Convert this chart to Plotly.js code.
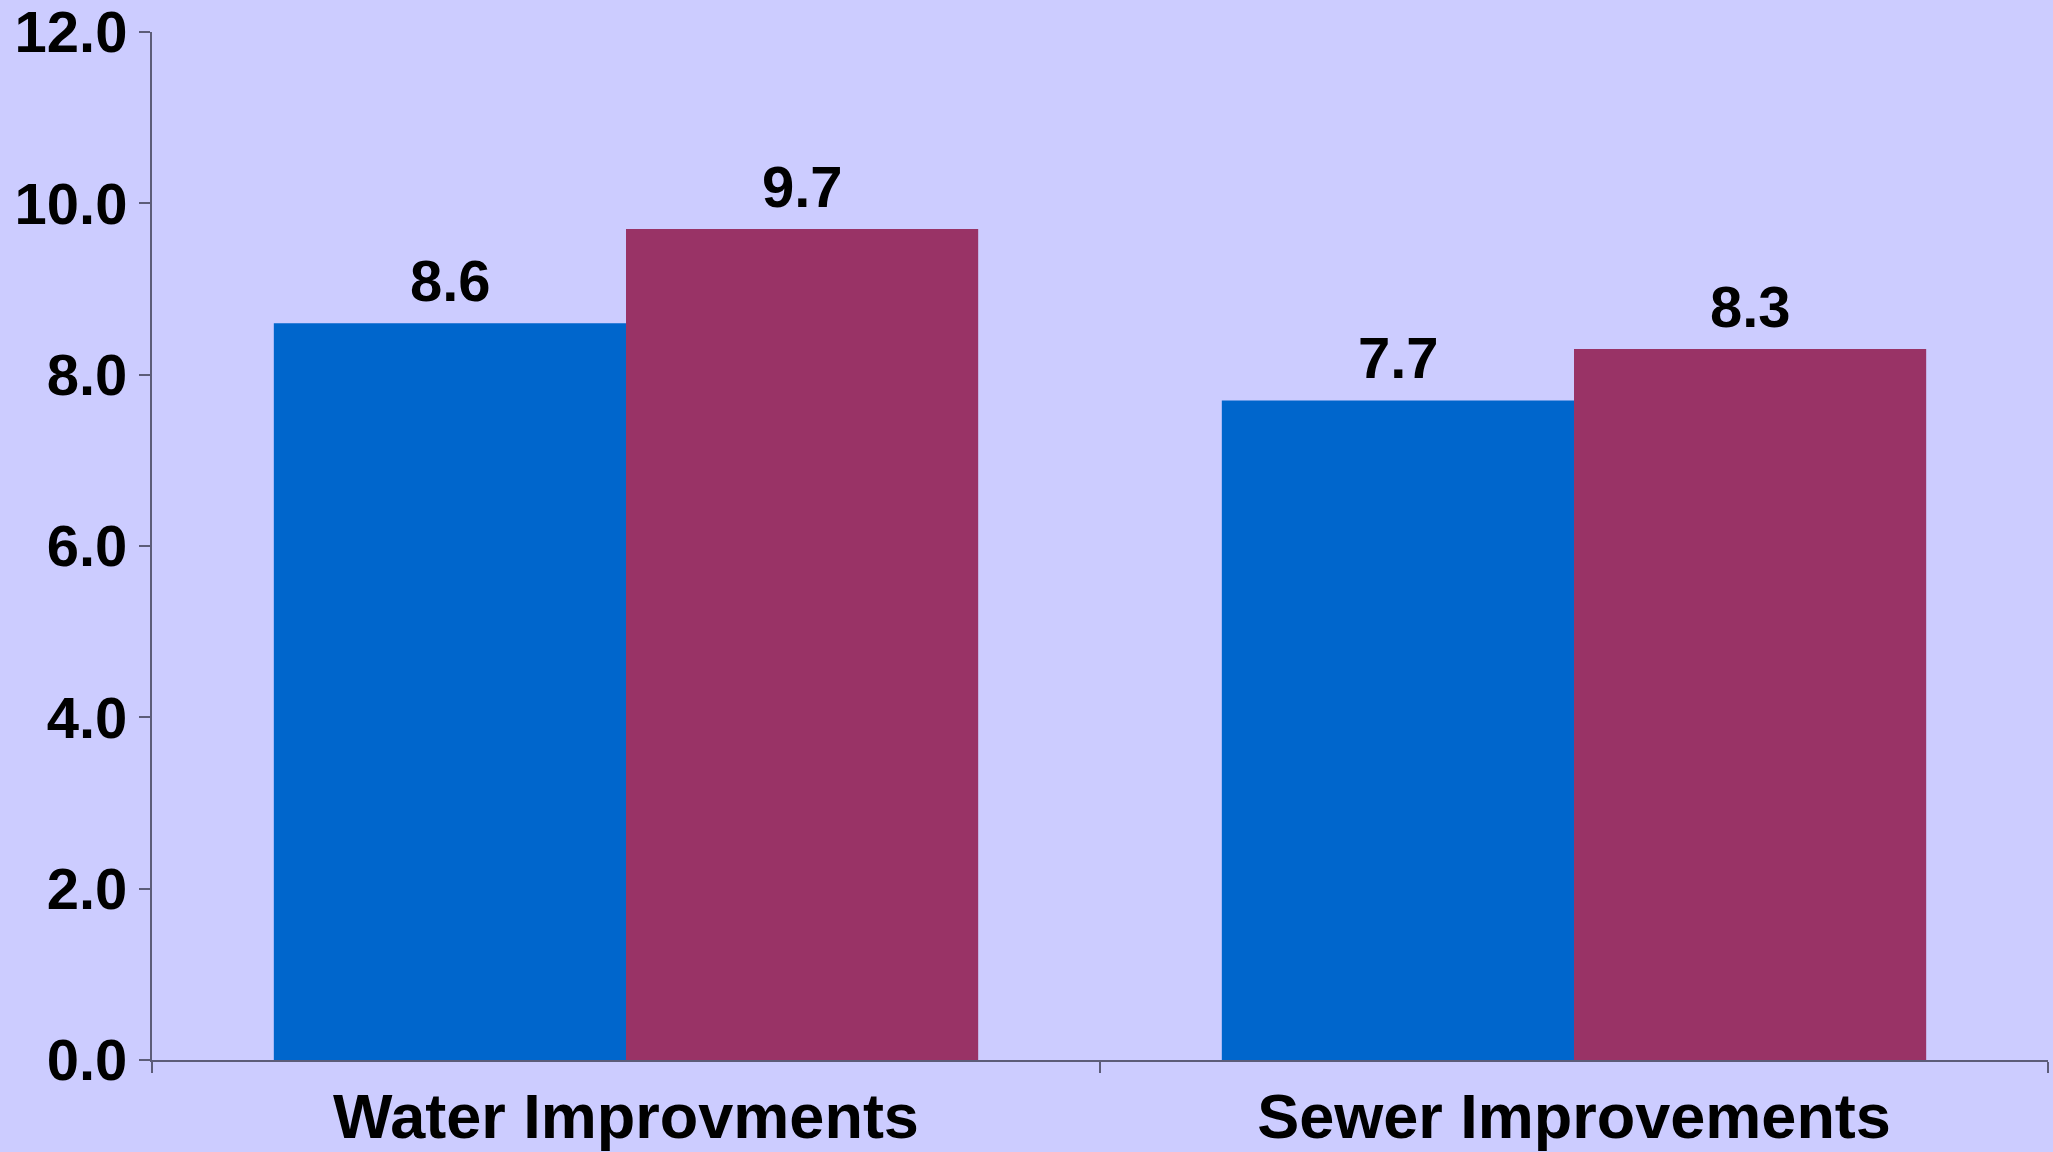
<!DOCTYPE html>
<html>
<head>
<meta charset="utf-8">
<script src="https://cdn.plot.ly/plotly-3.0.1.min.js"></script>
<style>
  html, body { margin: 0; padding: 0; background: #CCCCFF; }
  #chart { width: 2053px; height: 1152px; }
</style>
</head>
<body>
<div id="chart"></div>
<script>
const categories = ["Water Improvments", "Sewer Improvements"];
const seriesA = [8.6, 7.7];
const seriesB = [9.7, 8.3];
const seriesNames = ["Series 1", "Series 2"];
const yTickVals = [0, 2, 4, 6, 8, 10, 12];

const axisColor = "#5C5C78";
const fontFamily = "Liberation Sans, Arial, Helvetica, sans-serif";
const labelFont = { family: fontFamily, size: 58, color: "#000000", weight: "bold" };

const traces = [
  {
    type: "bar", name: seriesNames[0], x: categories, y: seriesA,
    marker: { color: "#0066CC", line: { width: 0 } },
    hoverinfo: "x+y"
  },
  {
    type: "bar", name: seriesNames[1], x: categories, y: seriesB,
    marker: { color: "#993366", line: { width: 0 } },
    hoverinfo: "x+y"
  }
];

// value labels placed through the axes: category x, value y, shifted to each bar's centre
const groupShift = 176;
const annotations = [];
categories.forEach((c, i) => {
  [[seriesA, -groupShift], [seriesB, groupShift]].forEach(([vals, dx]) => {
    annotations.push({
      x: c, y: vals[i], xref: "x", yref: "y",
      text: vals[i].toFixed(1), showarrow: false,
      xanchor: "center", yanchor: "bottom",
      xshift: dx, yshift: 8,
      font: labelFont
    });
  });
});

const layout = {
  width: 2053, height: 1152,
  margin: { l: 152, r: 5, t: 32, b: 92, pad: 0 },
  paper_bgcolor: "#CCCCFF", plot_bgcolor: "#CCCCFF",
  showlegend: false,
  barmode: "group", bargap: 0.257, bargroupgap: 0,
  font: { family: fontFamily, color: "#000000" },
  annotations: annotations,
  xaxis: {
    type: "category",
    showline: true, linecolor: axisColor, linewidth: 2,
    ticks: "outside", tickson: "boundaries", ticklen: 11, tickwidth: 2, tickcolor: axisColor,
    tickfont: { family: fontFamily, size: 63, color: "#000000", weight: "bold" },
    showgrid: false, zeroline: false
  },
  yaxis: {
    range: [0, 12.0005], tickvals: yTickVals, tickformat: ".1f",
    ticklabeloverflow: "allow",
    showline: true, linecolor: axisColor, linewidth: 2,
    ticks: "outside", ticklen: 11, tickwidth: 2, tickcolor: axisColor,
    tickfont: { family: fontFamily, size: 58, color: "#000000", weight: "bold" },
    showgrid: false, zeroline: false
  }
};

Plotly.newPlot("chart", traces, layout, { displayModeBar: false, staticPlot: true });
</script>
</body>
</html>
